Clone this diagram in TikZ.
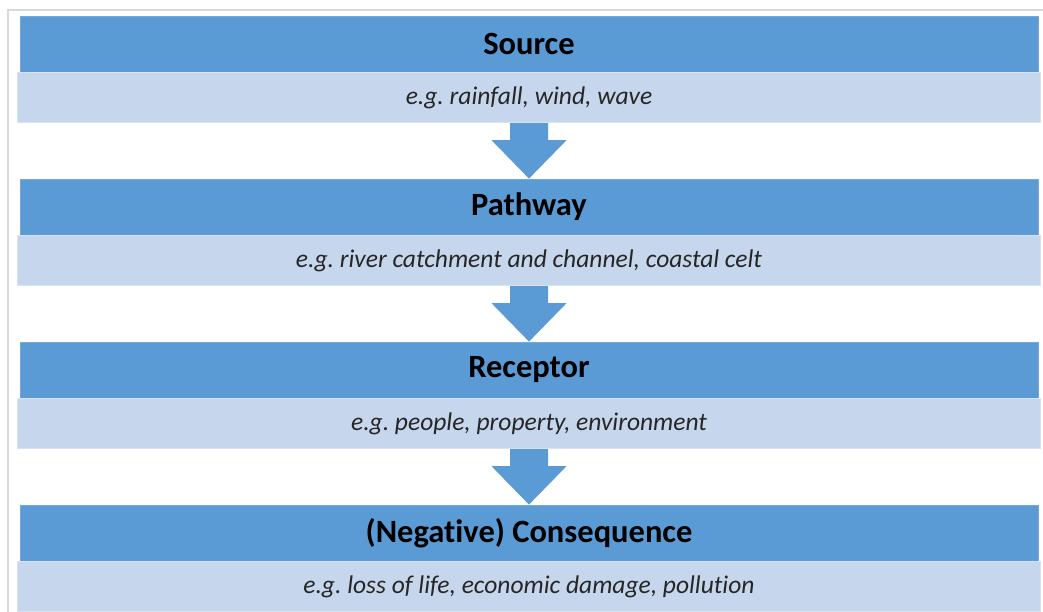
\documentclass[tikz,border=0pt]{standalone}
\usepackage{fontspec}
\setmainfont{Carlito}[Ligatures=NoCommon]
\usetikzlibrary{positioning,calc}
\definecolor{headblue}{RGB}{91,155,213}
\definecolor{descblue}{RGB}{198,214,236}
\definecolor{framegray}{RGB}{217,217,217}
\tikzset{
  x=1pt, y=1pt,
  head/.style={rectangle, fill=headblue, draw=headblue!85!white, line width=0.8pt,
               minimum width=1018pt, minimum height=56pt, inner sep=0pt,
               font=\fontsize{32.5}{36}\selectfont\bfseries},
  desc/.style={rectangle, fill=descblue, draw=descblue!70!white, line width=0.8pt,
               minimum width=1023pt, minimum height=50pt, inner sep=0pt,
               font=\fontsize{25.5}{28}\selectfont\itshape, text=black!85},
  flowarr/.style={fill=headblue, draw=none},
  frame/.style={draw=framegray, line width=2pt},
}
\frenchspacing

\begin{document}
\begin{tikzpicture}
  \useasboundingbox (0,0) rectangle (1043,-612);

  % ============ outer frame ============
  \draw[frame] (8,-614) -- (8,-10) -- (1045,-10);

  % ============ the four stages ============
  \node[head] (h1) at (529,-44) {Source};
  \node[desc, below=0pt of h1] (d1) {e.g. rainfall, wind, wave};

  \node[head] (h2) at (529,-207) {Pathway};
  \node[desc, below=0pt of h2] (d2) {e.g. river catchment and channel, coastal celt};

  \node[head] (h3) at (529,-370) {Receptor};
  \node[desc, below=0pt of h3] (d3) {e.g. people, property, environment};

  \node[head] (h4) at (529,-533) {(Negative) Consequence};
  \node[desc, below=0pt of h4] (d4) {e.g. loss of life, economic damage, pollution};

  % ============ block arrows between stages ============
  \foreach \a/\b in {d1/h2, d2/h3, d3/h4}
    \fill[flowarr] ($(\a.south)+(-19,0)$) -- ($(\a.south)+(19,0)$)
      -- ($(\a.south)+(19,-17)$) -- ($(\a.south)+(37.5,-17)$)
      -- (\b.north) -- ($(\a.south)+(-37.5,-17)$)
      -- ($(\a.south)+(-19,-17)$) -- cycle;

\end{tikzpicture}
\end{document}
